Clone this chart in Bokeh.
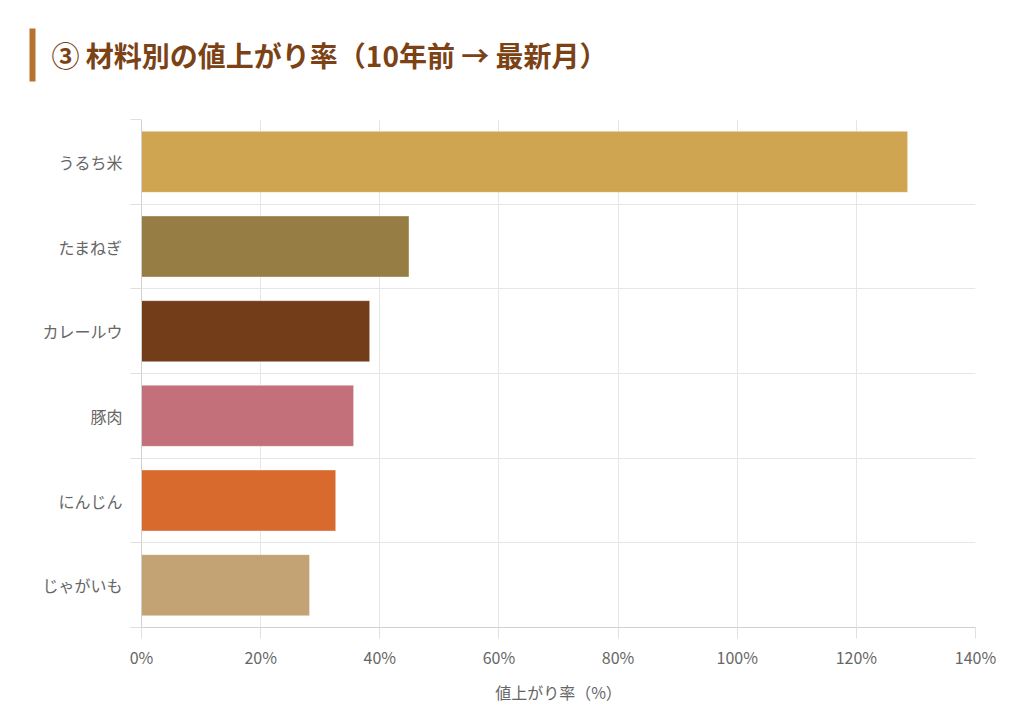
from bokeh.plotting import figure
from bokeh.models import (ColumnDataSource, FixedTicker, Range1d, CustomJSTickFormatter)
from bokeh.core.properties import value
from bokeh.embed import file_html
from bokeh.resources import INLINE

categories = ["うるち米", "たまねぎ", "カレールウ", "豚肉", "にんじん", "じゃがいも"]
rise_pct = [128.6, 44.9, 38.3, 35.6, 32.6, 28.2]
colors = ["#D0A552", "#957D44", "#733D1A", "#C4707B", "#D96A2E", "#C3A273"]
x_ticks = [0, 20, 40, 60, 80, 100, 120, 140]
title_text = "③ 材料別の値上がり率（10年前 → 最新月）"
x_label = "値上がり率（%）"

FONT = "Noto Sans CJK JP"
W = 1000
TOP_H = 100
MAIN_H = 611

# ---- header (title + accent bar), pixel-space figure ----
head = figure(width=W, height=TOP_H, output_backend="svg", toolbar_location=None,
              x_range=Range1d(0, W), y_range=Range1d(TOP_H, 0),
              x_axis_type=None, y_axis_type=None, outline_line_color=None,
              min_border_left=0, min_border_right=0, min_border_top=0,
              min_border_bottom=0)
head.quad(left=[29], right=[35], top=[28], bottom=[81],
          fill_color="#B8722F", line_color=None)
head.text(x=[51], y=[54], text=[title_text], text_font=value(FONT),
          text_font_size="28px", text_font_style="bold", text_color="#7B4216",
          text_baseline="middle", text_align="left")

# ---- main chart ----
n = len(categories)
ypos = [n - i - 0.5 for i in range(n)]
src = ColumnDataSource(dict(cat=categories, v=rise_pct, y=ypos, c=colors))

p = figure(width=W, height=MAIN_H, output_backend="svg", toolbar_location=None,
           x_range=Range1d(0, 140), y_range=Range1d(0, n),
           min_border_left=141, min_border_right=25, min_border_top=19,
           min_border_bottom=84, outline_line_color=None)

p.hbar(y="y", right="v", left=0, height=0.72, source=src, fill_color="c",
       line_color="white", line_alpha=0.35, line_width=1)

# x axis
p.xaxis.ticker = FixedTicker(ticks=x_ticks)
p.xaxis.formatter = CustomJSTickFormatter(code="return tick + '%';")
p.xaxis.major_tick_out = 11
p.xaxis.major_tick_in = 0
p.xaxis.minor_tick_line_color = None
p.xaxis.major_tick_line_color = "#e0e0e0"
p.xaxis.axis_line_color = "#d0d0d0"
p.xaxis.major_label_standoff = 6
p.xaxis.major_label_text_font = FONT
p.xaxis.major_label_text_font_size = "16px"
p.xaxis.major_label_text_color = "#666666"
p.xaxis.axis_label = x_label
p.xaxis.axis_label_text_font = FONT
p.xaxis.axis_label_text_font_size = "16px"
p.xaxis.axis_label_text_font_style = "normal"
p.xaxis.axis_label_text_color = "#666666"
p.xaxis.axis_label_standoff = 8

# y axis: labels at category centres, tick marks at category boundaries
p.yaxis.ticker = FixedTicker(ticks=ypos, minor_ticks=list(range(n + 1)))
p.yaxis.major_label_overrides = {y: c for y, c in zip(ypos, categories)}
p.yaxis.major_tick_line_color = None
p.yaxis.major_tick_out = 0
p.yaxis.major_tick_in = 0
p.yaxis.minor_tick_out = 11
p.yaxis.minor_tick_in = 0
p.yaxis.minor_tick_line_color = "#e0e0e0"
p.yaxis.axis_line_color = "#d0d0d0"
p.yaxis.major_label_standoff = 8
p.yaxis.major_label_text_font = FONT
p.yaxis.major_label_text_font_size = "16px"
p.yaxis.major_label_text_color = "#666666"

p.xgrid.ticker = FixedTicker(ticks=x_ticks)
p.ygrid.ticker = FixedTicker(ticks=list(range(n + 1)))
p.xgrid.grid_line_color = "#e6e6e6"
p.ygrid.grid_line_color = "#e6e6e6"

# two independent roots stacked in page flow (no frame alignment between them)
open("out.html", "w").write(file_html([head, p], INLINE))
